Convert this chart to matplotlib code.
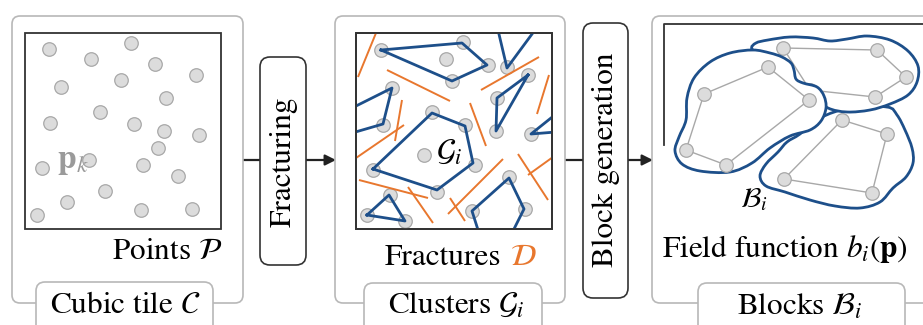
import numpy as np
import matplotlib
matplotlib.use("Agg")
import matplotlib.pyplot as plt
from matplotlib.patches import FancyBboxPatch, Rectangle, PathPatch
from matplotlib.path import Path

plt.rcParams['font.family'] = ['STIXGeneral', 'DejaVu Serif']
plt.rcParams['mathtext.fontset'] = 'stix'

# Colores
BLUE = "#1d4f8a"
ORANGE = "#e8772e"
PT_FACE = "#dcdcdc"
PT_EDGE = "#a8a8a8"
FRAME = "#b8b8b8"
DARK = "#333333"
FS = 22.5

# Panel 1: puntos del tile
points_tile = [(49, 49), (131, 43), (91, 59), (155, 64), (196, 75), (121, 80),
               (61, 87), (166, 98), (100, 112), (50, 123), (134, 124), (164, 131),
               (199, 135), (158, 148), (89, 160), (42, 168), (143, 165), (178, 176),
               (105, 191), (67, 202), (37, 215), (141, 210), (192, 209)]

# Panel 2: puntos, clusters y fracturas
points_frac = [(381, 50), (463, 42), (446, 59), (488, 65), (507, 67), (452, 81),
               (528, 75), (392, 88), (497, 98), (432, 112), (465, 125), (383, 125),
               (496, 131), (531, 134), (424, 155), (475, 165), (373, 170), (509, 177),
               (437, 192), (390, 195), (525, 209), (472, 211), (367, 215), (405, 221)]
clusters_closed = [
    [(381, 50), (462, 43), (487, 65), (452, 81)],
    [(528, 75), (497, 98), (496, 131)],
    [(373, 169), (432, 113), (465, 126), (473, 163), (437, 190)],
    [(367, 215), (389, 195), (405, 221)],
]
clusters_open = [
    [(498, 30), (507, 68), (535, 30)],
    [(352, 108), (392, 88), (383, 124), (352, 133)],
    [(556, 114), (531, 134), (556, 132)],
    [(479, 233), (472, 211), (509, 178), (524, 209), (512, 233)],
]
fractures = [
    [(358, 77), (376, 33)], [(387, 70), (450, 101)], [(481, 90), (539, 57)],
    [(537, 114), (549, 75)], [(356, 158), (404, 125)], [(402, 100), (395, 141)],
    [(470, 103), (486, 146)], [(359, 180), (428, 198)], [(408, 187), (433, 223)],
    [(503, 159), (448, 214)], [(450, 198), (465, 221)], [(518, 154), (548, 200)],
    [(528, 175), (553, 157)],
]

# Panel 3: bloques (poligono interior + contorno del campo)
block_polys = [
    [(784, 179), (842, 120), (887, 134), (872, 193)],
    [(783, 48), (877, 50), (906, 77), (875, 97), (810, 90)],
    [(686, 150), (704, 94), (768, 67), (809, 100), (726, 165)],
]
block_outlines = [
    [(887, 107), (897, 115), (905, 130), (912, 148), (913, 163), (906, 177), (893, 188),
     (880, 202), (860, 208), (835, 206), (810, 200), (785, 192), (766, 186), (760, 176),
     (766, 164), (778, 152), (787, 142), (800, 134), (820, 118), (850, 108)],
    [(752, 49), (756, 43), (768, 40), (790, 37), (813, 38), (830, 41), (847, 39),
     (867, 36), (890, 40), (908, 51), (918, 66), (917, 82), (908, 95), (890, 104),
     (870, 110), (847, 112), (828, 108), (812, 96), (790, 76), (765, 58)],
    [(753, 50), (770, 53), (782, 57), (791, 63), (794, 70), (796, 79), (803, 83),
     (817, 87), (824, 96), (826, 108), (821, 121), (810, 130), (790, 136), (770, 148),
     (752, 163), (730, 172), (700, 171), (682, 164), (675, 151), (679, 137), (686, 120),
     (687, 98), (694, 78), (710, 62), (730, 53)],
]


def smooth_closed(pts):
    # curva cerrada tipo Catmull-Rom convertida a Bezier cubica
    p = np.array(pts, dtype=float)
    n = len(p)
    verts = [p[0]]
    codes = [Path.MOVETO]
    for i in range(n):
        p0, p1, p2, p3 = p[i - 1], p[i], p[(i + 1) % n], p[(i + 2) % n]
        verts += [p1 + (p2 - p0) / 6, p2 - (p3 - p1) / 6, p2]
        codes += [Path.CURVE4] * 3
    return Path(verts, codes)


fig = plt.figure(figsize=(9.23, 3.25), dpi=100)
ax = fig.add_axes([0, 0, 1, 1])
ax.set_xlim(0, 923)
ax.set_ylim(325, 0)
ax.axis("off")


def rbox(x0, y0, x1, y1, r, ec, lw, z=1):
    b = FancyBboxPatch((x0, y0), x1 - x0, y1 - y0,
                       boxstyle=f"round,pad=0,rounding_size={r}",
                       fc="white", ec=ec, lw=lw, zorder=z)
    ax.add_patch(b)


# Cajas exteriores y pestañas
rbox(12, 16, 243, 303, 8, FRAME, 1.2)
rbox(335, 16, 565, 303, 8, FRAME, 1.2)
rbox(652, 16, 990, 303, 8, FRAME, 1.2)
rbox(36, 282, 213, 350, 9, FRAME, 1.2, z=2)
rbox(364, 283, 542, 350, 9, FRAME, 1.2, z=2)
rbox(698, 283, 905, 350, 9, FRAME, 1.2, z=2)

# Cajas de proceso
rbox(260, 57, 306, 265, 10, DARK, 1.2)
rbox(583, 23, 628, 298, 10, DARK, 1.2)
ax.text(284, 162, "Fracturing", rotation=90, ha="center", va="center", fontsize=FS, zorder=3)
ax.text(606, 160, "Block generation", rotation=90, ha="center", va="center", fontsize=FS, zorder=3)

# Flechas
for xa, xb, xc, xd in [(243, 260, 306, 336), (565, 583, 628, 653)]:
    ax.plot([xa, xb], [160, 160], color="#222222", lw=1.6, zorder=0)
    ax.annotate("", xy=(xd, 160), xytext=(xc, 160),
                arrowprops=dict(arrowstyle="-|>", color="#222222", lw=1.6,
                                mutation_scale=16, shrinkA=0, shrinkB=0), zorder=0)

# Panel 1
ax.add_patch(Rectangle((25, 33), 196, 196, fc="white", ec=DARK, lw=1.3, zorder=3))
px, py = zip(*points_tile)
ax.scatter(px, py, s=95, c=PT_FACE, edgecolors=PT_EDGE, linewidths=0.9, zorder=4)
ax.text(57, 168, r"$\mathbf{p}_k$", color="#9a9a9a", fontsize=24, ha="left", va="baseline", zorder=5)
ax.text(222, 259, r"Points $\mathcal{P}$", fontsize=FS, ha="right", va="baseline", zorder=3)
ax.text(125, 313, r"Cubic tile $\mathcal{C}$", fontsize=FS, ha="center", va="baseline", zorder=3)

# Panel 2
sq2 = Rectangle((356, 33), 196, 196, fc="white", ec=DARK, lw=1.3, zorder=3)
ax.add_patch(sq2)
qx, qy = zip(*points_frac)
ax.scatter(qx, qy, s=95, c=PT_FACE, edgecolors=PT_EDGE, linewidths=0.9, zorder=4)
for seg in fractures:
    sx, sy = zip(*seg)
    ln, = ax.plot(sx, sy, color=ORANGE, lw=1.4, zorder=5, solid_capstyle="butt")
    ln.set_clip_path(sq2)
for poly in clusters_closed:
    cx, cy = zip(*(poly + poly[:1]))
    ln, = ax.plot(cx, cy, color=BLUE, lw=2.0, zorder=6)
    ln.set_clip_path(sq2)
for poly in clusters_open:
    cx, cy = zip(*poly)
    ln, = ax.plot(cx, cy, color=BLUE, lw=2.0, zorder=6)
    ln.set_clip_path(sq2)
ax.add_patch(Rectangle((356, 33), 196, 196, fc="none", ec=DARK, lw=1.3, zorder=7))
ax.text(436, 160, r"$\mathcal{G}_i$", fontsize=FS, ha="left", va="baseline", zorder=8)
t_frac = ax.text(385, 265, "Fractures", fontsize=FS, ha="left", va="baseline", zorder=3)
fig.canvas.draw()
bb = t_frac.get_window_extent().transformed(ax.transData.inverted())
ax.text(bb.x1 + 8, 265, r"$\mathcal{D}$", color=ORANGE, fontsize=FS, ha="left", va="baseline", zorder=3)
ax.text(456, 313, r"Clusters $\mathcal{G}_i$", fontsize=FS, ha="center", va="baseline", zorder=3)

# Panel 3
ax.plot([664, 664, 923], [145, 24, 24], color=DARK, lw=1.3, zorder=3)
z = 4
for outline, poly in zip(block_outlines, block_polys):
    ax.add_patch(PathPatch(smooth_closed(outline), fc="white", ec=BLUE, lw=2.0, zorder=z))
    bx, by = zip(*(poly + poly[:1]))
    ax.plot(bx, by, color="#a8a8a8", lw=1.0, zorder=z + 0.1)
    ax.scatter(bx[:-1], by[:-1], s=95, c=PT_FACE, edgecolors=PT_EDGE, linewidths=0.9, zorder=z + 0.2)
    z += 1
ax.text(740, 207, r"$\mathcal{B}_i$", fontsize=20, ha="left", va="baseline", zorder=9)
ax.text(662, 257, r"Field function $b_i(\mathbf{p})$", fontsize=FS, ha="left", va="baseline", zorder=3)
ax.text(800, 315, r"Blocks $\mathcal{B}_i$", fontsize=FS, ha="center", va="baseline", zorder=3)

plt.savefig("out.png", dpi=100)
